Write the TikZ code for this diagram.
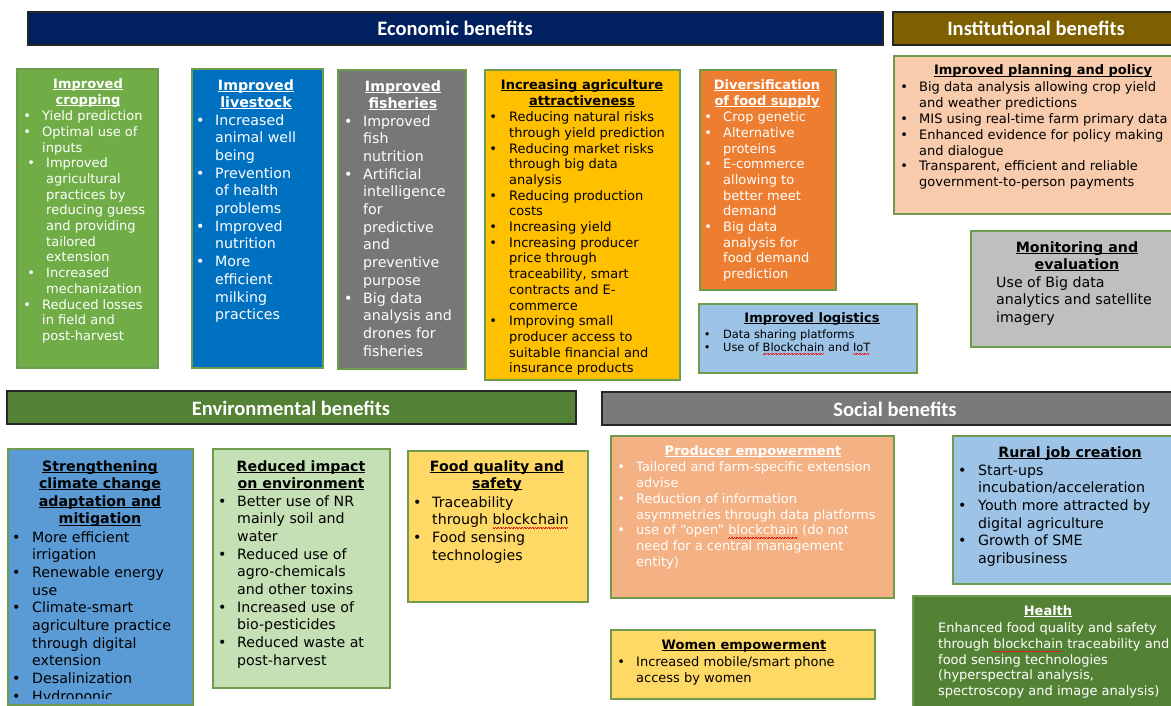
\documentclass[tikz,border=0pt]{standalone}
\usepackage{fontspec}
\setmainfont{DejaVu Sans}
\newfontfamily\barfont{Carlito}
\definecolor{bord}{HTML}{6E9B4E}
\definecolor{barb}{HTML}{262626}
\definecolor{cEco}{HTML}{002060}
\definecolor{cInst}{HTML}{7F6000}
\definecolor{cEnv}{HTML}{538135}
\definecolor{cSoc}{HTML}{7A7A7A}
\definecolor{cCrop}{HTML}{70AD47}
\definecolor{cLive}{HTML}{0070C0}
\definecolor{cFish}{HTML}{777777}
\definecolor{cAttr}{HTML}{FFC000}
\definecolor{cDiv}{HTML}{ED7D31}
\definecolor{cLog}{HTML}{9DC3E6}
\definecolor{cPlan}{HTML}{F8CBAD}
\definecolor{cMon}{HTML}{BFBFBF}
\definecolor{cClim}{HTML}{5B9BD5}
\definecolor{cRed}{HTML}{C5E0B4}
\definecolor{cFood}{HTML}{FFD966}
\definecolor{cProd}{HTML}{F4B183}
\definecolor{cRural}{HTML}{9DC3E6}
\definecolor{cHealth}{HTML}{548235}
\definecolor{squig}{HTML}{E0201B}
\newcommand\szA{\fontsize{13}{15.7}\selectfont}
\newcommand\szB{\fontsize{14.2}{17.7}\selectfont}
\newcommand\szC{\fontsize{11.4}{13}\selectfont}
\newcommand\bul{\makebox[0pt]{\textbullet}}
\newcommand\bulx[1]{\makebox[0pt][l]{\hspace{#1}\bul}}
\newcommand\ulx[1]{\setbox0\hbox{#1}\rlap{\rule[-1.7pt]{\wd0}{1pt}}\box0\relax}
\newcommand\sq[1]{\setbox2\hbox{#1}\rlap{\color{squig}\leaders\hbox{\rule[-3.4pt]{0.8pt}{0.6pt}\rule[-2.7pt]{0.8pt}{0.6pt}}\hskip\wd2}\box2\relax}
\newcommand\tl[1]{\begin{tabular}[t]{@{}c@{}}#1\end{tabular}}
\newcommand\bl[2]{\begin{tabular}[t]{@{}l@{\hspace{#1}}l@{}}#2\end{tabular}}
\newcommand\pl[1]{\begin{tabular}[t]{@{}l@{}}#1\end{tabular}}
\begin{document}
\begin{tikzpicture}[x=1pt,y=-1pt,
  box/.style={draw=bord, line width=1.3pt, anchor=north west, inner sep=0, outer sep=0},
  bar/.style={draw=barb, line width=1.1pt, anchor=north west, inner sep=0, outer sep=0, minimum height=33pt},
  bartxt/.style={anchor=base, inner sep=0, text=white, font=\barfont\fontsize{20.5}{24}\selectfont\bfseries},
  ttlA/.style={anchor=base, inner sep=0, font=\fontsize{13}{16}\selectfont\bfseries},
  ttlB/.style={anchor=base, inner sep=0, font=\fontsize{14.2}{17.6}\selectfont\bfseries},
  lstA/.style={anchor=base west, inner sep=0, font=\szA},
  lstB/.style={anchor=base west, inner sep=0, font=\szB},
  lstC/.style={anchor=base west, inner sep=0, font=\szC},
  wt/.style={text=white}]
\useasboundingbox (0,0) rectangle (1171,706);
\fill[white] (0,0) rectangle (1171,706);
\clip (0,0) rectangle (1171,706);

% ---------- header bars ----------
\node[bar, fill=cEco, minimum width=855pt] (eco) at (28,12) {};
\node[bartxt] (ecoT) at (455,36) {Economic benefits};
\node[bar, fill=cInst, minimum width=290pt] (inst) at (893,12) {};
\node[bartxt] (instT) at (1036,36) {Institutional benefits};
\node[bar, fill=cEnv, minimum width=569pt] (env) at (7,391) {};
\node[bartxt] (envT) at (291,415) {Environmental benefits};
\node[bar, fill=cSoc, minimum width=590pt] (soc) at (602,392) {};
\node[bartxt] (socT) at (895,416) {Social benefits};

% ---------- economic ----------
\node[box, fill=cCrop, minimum width=141pt, minimum height=299pt] (crop) at (17,69) {};
\node[ttlA, wt] (cropT) at (88,88.7) {\tl{\ulx{Improved}\\\ulx{cropping}}};
\node[lstA, wt] (cropL) at (27,120.7) {\bl{15pt}{%
\bul & Yield prediction\\
\bul & Optimal use of\\
 & inputs\\
\bulx{4pt} & \hspace{4pt}Improved\\
 & \hspace{4pt}agricultural\\
 & \hspace{4pt}practices by\\
 & \hspace{4pt}reducing guess\\
 & \hspace{4pt}and providing\\
 & \hspace{4pt}tailored\\
 & \hspace{4pt}extension\\
\bulx{4pt} & \hspace{4pt}Increased\\
 & \hspace{4pt}mechanization\\
\bul & Reduced losses\\
 & in field and\\
 & post-harvest}};

\node[box, fill=cLive, minimum width=131pt, minimum height=299pt] (live) at (192,69) {};
\node[ttlB, wt] (liveT) at (256,90.1) {\tl{\ulx{Improved}\\\ulx{livestock}}};
\node[lstB, wt] (liveL) at (200,125.1) {\bl{15pt}{%
\bul & Increased\\
 & animal well\\
 & being\\
\bul & Prevention\\
 & of health\\
 & problems\\
\bul & Improved\\
 & nutrition\\
\bul & More\\
 & efficient\\
 & milking\\
 & practices}};

\node[box, fill=cFish, minimum width=128pt, minimum height=299pt] (fish) at (338,70) {};
\node[ttlB, wt] (fishT) at (403,91.1) {\tl{\ulx{Improved}\\\ulx{fisheries}}};
\node[lstB, wt] (fishL) at (348,126.1) {\bl{15pt}{%
\bul & Improved\\
 & fish\\
 & nutrition\\
\bul & Artificial\\
 & intelligence\\
 & for\\
 & predictive\\
 & and\\
 & preventive\\
 & purpose\\
\bul & Big data\\
 & analysis and\\
 & drones for\\
 & fisheries}};

\node[box, fill=cAttr, minimum width=195pt, minimum height=310pt] (attr) at (485,70) {};
\node[ttlA] (attrT) at (582,89.7) {\tl{\ulx{Increasing agriculture}\\\ulx{attractiveness}}};
\node[lstA] (attrL) at (493,121.7) {\bl{16pt}{%
\bul & Reducing natural risks\\
 & through yield prediction\\
\bul & Reducing market risks\\
 & through big data\\
 & analysis\\
\bul & Reducing production\\
 & costs\\
\bul & Increasing yield\\
\bul & Increasing producer\\
 & price through\\
 & traceability, smart\\
 & contracts and E-\\
 & commerce\\
\bul & Improving small\\
 & producer access to\\
 & suitable financial and\\
 & insurance products}};

\node[box, fill=cDiv, minimum width=136pt, minimum height=220pt] (div) at (700,70) {};
\node[ttlA, wt] (divT) at (767,89.7) {\tl{\ulx{Diversification}\\\ulx{of food supply}}};
\node[lstA, wt] (divL) at (708,121.7) {\bl{15pt}{%
\bul & Crop genetic\\
\bul & Alternative\\
 & proteins\\
\bul & E-commerce\\
 & allowing to\\
 & better meet\\
 & demand\\
\bul & Big data\\
 & analysis for\\
 & food demand\\
 & prediction}};

\node[box, fill=cLog, minimum width=218pt, minimum height=69pt] (log) at (699,304) {};
\node[ttlA] (logT) at (812,322.7) {\ulx{Improved logistics}};
\node[lstC] (logL) at (707,338) {\bl{16pt}{%
\bul & Data sharing platforms\\
\bul & Use of \sq{Blockchain} and \sq{IoT}}};

% ---------- institutional ----------
\node[box, fill=cPlan, minimum width=300pt, minimum height=158pt] (plan) at (894,56) {};
\node[ttlA] (planT) at (1043,75) {\ulx{Improved planning and policy}};
\node[lstA, font=\fontsize{13}{15.8}\selectfont] (planL) at (904,92) {\bl{15pt}{%
\bul & Big data analysis allowing crop yield\\
 & and weather predictions\\
\bul & MIS using real-time farm primary data\\
\bul & Enhanced evidence for policy making\\
 & and dialogue\\
\bul & Transparent, efficient and reliable\\
 & government-to-person payments}};

\node[box, fill=cMon, minimum width=220pt, minimum height=116pt] (mon) at (971,231) {};
\node[ttlB] (monT) at (1077,252) {\tl{\ulx{Monitoring and}\\\ulx{evaluation}}};
\node[lstB] (monL) at (996,287) {\pl{Use of Big data\\analytics and satellite\\imagery}};

% ---------- environmental ----------
\node[box, fill=cClim, minimum width=185pt, minimum height=256pt] (clim) at (8,449) {};
\node[ttlB] (climT) at (100,471) {\tl{\ulx{Strengthening}\\\ulx{climate change}\\\ulx{adaptation and}\\\ulx{mitigation}}};
\begin{scope}
\clip (8,449) rectangle (193,698);
\node[lstB] (climL) at (16,542) {\bl{16pt}{%
\bul & More efficient\\
 & irrigation\\
\bul & Renewable energy\\
 & use\\
\bul & Climate-smart\\
 & agriculture practice\\
 & through digital\\
 & extension\\
\bul & Desalinization\\
\bul & Hydroponic}};
\end{scope}

\node[box, fill=cRed, minimum width=177pt, minimum height=239pt] (red) at (213,449) {};
\node[ttlB] (redT) at (301,471) {\tl{\ulx{Reduced impact}\\\ulx{on environment}}};
\node[lstB] (redL) at (222,506) {\bl{15pt}{%
\bul & Better use of NR\\
 & mainly soil and\\
 & water\\
\bul & Reduced use of\\
 & agro-chemicals\\
 & and other toxins\\
\bul & Increased use of\\
 & bio-pesticides\\
\bul & Reduced waste at\\
 & post-harvest}};

\node[box, fill=cFood, minimum width=180pt, minimum height=151pt] (food) at (408,451) {};
\node[ttlB] (foodT) at (497,471) {\tl{\ulx{Food quality and}\\\ulx{safety}}};
\node[lstB, font=\fontsize{14.2}{17.9}\selectfont] (foodL) at (417,507) {\bl{15pt}{%
\bul & Traceability\\
 & through \sq{blockchain}\\
\bul & Food sensing\\
 & technologies}};

% ---------- social ----------
\node[box, fill=cProd, minimum width=283pt, minimum height=162pt] (prod) at (611,436) {};
\node[ttlA, wt] (prodT) at (753,455.7) {\ulx{Producer empowerment}};
\node[lstA, wt, font=\fontsize{13}{15.8}\selectfont] (prodL) at (621,471.7) {\bl{15pt}{%
\bul & Tailored and farm-specific extension\\
 & advise\\
\bul & Reduction of information\\
 & asymmetries through data platforms\\
\bul & use of “open” \sq{blockchain} (do not\\
 & need for a central management\\
 & entity)}};

\node[box, fill=cFood, minimum width=264pt, minimum height=69pt] (wom) at (611,630) {};
\node[ttlA] (womT) at (744,649.7) {\ulx{Women empowerment}};
\node[lstA, font=\fontsize{13}{15.5}\selectfont] (womL) at (621,666.5) {\bl{15pt}{%
\bul & Increased mobile/smart phone\\
 & access by women}};

\node[box, fill=cRural, minimum width=235pt, minimum height=148pt] (rural) at (953,436) {};
\node[ttlB] (ruralT) at (1070,457) {\ulx{Rural job creation}};
\node[lstB] (ruralL) at (962,475) {\bl{16pt}{%
\bul & Start-ups\\
 & incubation/acceleration\\
\bul & Youth more attracted by\\
 & digital agriculture\\
\bul & Growth of SME\\
 & agribusiness}};

\node[box, fill=cHealth, minimum width=280pt, minimum height=120pt] (health) at (913,596) {};
\node[ttlA, wt] (healthT) at (1048,615.7) {\ulx{Health}};
\node[lstA, wt] (healthL) at (938,632.7) {\pl{Enhanced food quality and safety\\through \sq{blockchain} traceability and\\food sensing technologies\\(hyperspectral analysis,\\spectroscopy and image analysis)}};
\end{tikzpicture}
\end{document}
